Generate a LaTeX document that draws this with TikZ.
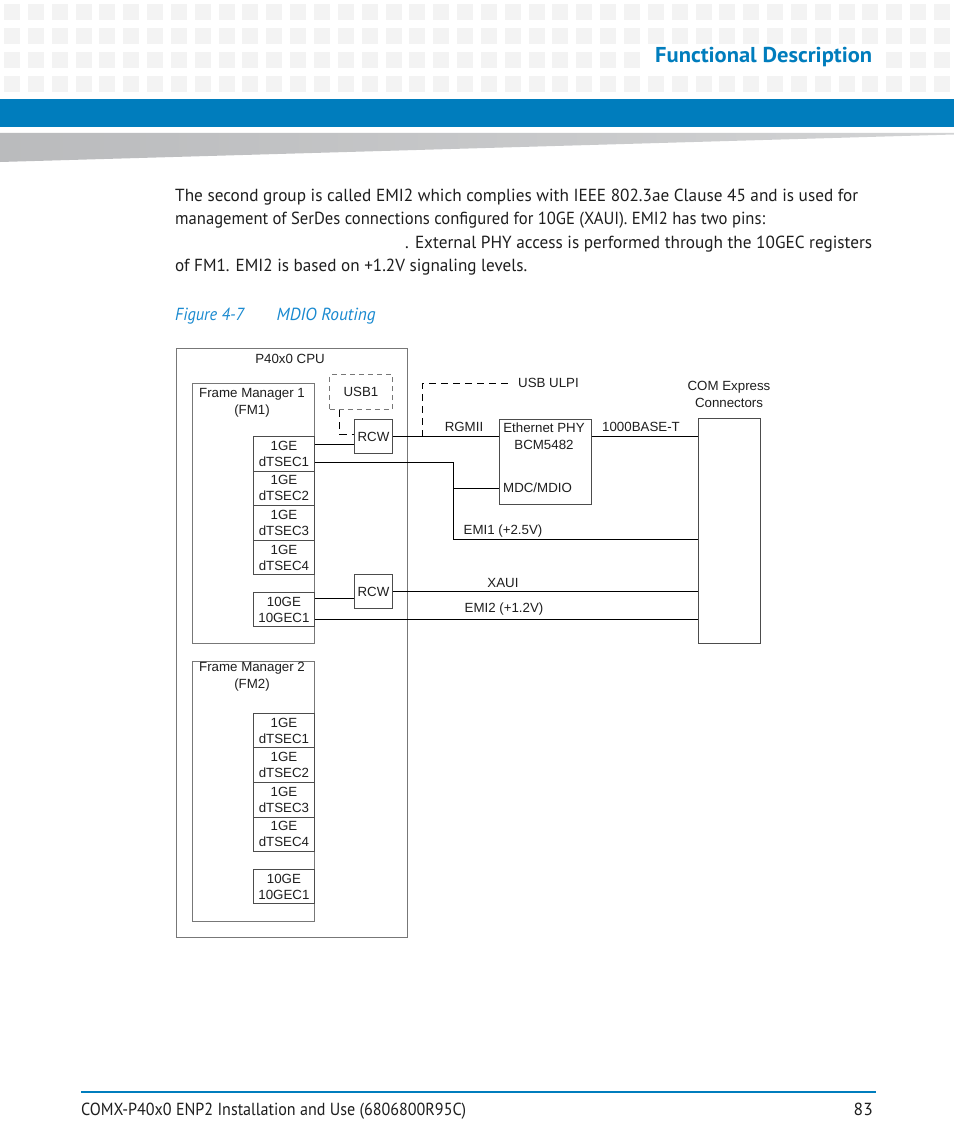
\documentclass[tikz,border=0pt]{standalone}
\usepackage{fontspec}
\setmainfont{PT Sans}
\newfontfamily\figfont{Liberation Sans}
\usetikzlibrary{positioning,calc}
\definecolor{brandblue}{HTML}{007DBD}
\definecolor{capblue}{HTML}{1A8AD0}
\definecolor{tilegray}{HTML}{F3F3F3}
\definecolor{wedgegray}{HTML}{BABBBD}
\definecolor{wedgelight}{HTML}{D2D3D4}
\definecolor{boxgray}{HTML}{777777}
\definecolor{inkgray}{HTML}{1E1E1E}
\newcommand{\fitto}[2]{\resizebox{#1}{\height}{#2}}
\tikzset{
  box/.style={draw=boxgray, line width=0.9pt, inner sep=0pt, anchor=north west},
  port/.style={box, draw=black!70, minimum width=61.6pt, text=inkgray, align=center,
    font=\figfont\fontsize{13.3}{16}\selectfont},
  lbl/.style={font=\figfont\fontsize{13.3}{17}\selectfont, text=inkgray, inner sep=0pt, align=center},
  wire/.style={line width=1pt, black},
  dwire/.style={wire, dash pattern=on 7pt off 5pt},
  body/.style={font=\fontsize{17.5}{21}\selectfont, text=inkgray, inner sep=0pt, anchor=base west}
}

\begin{document}
\begin{tikzpicture}[x=1pt, y=-1pt]
  \useasboundingbox (0,0) rectangle (954,1145);
  \fill[white] (0,0) rectangle (954,1145);
  % Header tiles, band and wedge
  \foreach \r in {0,...,3}
    \foreach \c in {0,...,39}
      \fill[tilegray] ({4+23.846*\c},{4+24*\r}) rectangle ++(16,16);
  \fill[white] (642,50) rectangle (884,70);
  \node[anchor=base west, inner sep=0pt, text=brandblue, font=\bfseries\fontsize{21.5}{24}\selectfont]
    (title) at (655,63) {\fitto{217pt}{Functional Description}};
  \fill[brandblue] (0,99) rectangle (954,127);
  \shade[left color=wedgegray, right color=wedgelight] (0,133) -- (954,133) -- (954,134.5) -- (0,162) -- cycle;

  % Body text
  \node[body] (l1) at (175,201.5) {\fitto{683pt}{The second group is called EMI2 which complies with IEEE 802.3ae Clause 45 and is used for}};
  \node[body] (l2) at (175,224.5) {\fitto{590pt}{management of SerDes connections configured for 10GE (XAUI). EMI2 has two pins:}};
  \node[body] (l3) at (405,248) {\fitto{467pt}{. External PHY access is performed through the 10GEC registers}};
  \node[body] (l4) at (175,271) {\fitto{352pt}{of FM1. EMI2 is based on +1.2V signaling levels.}};
  \node[body, text=capblue] (fignum) at (175,320) {\fitto{69pt}{\itshape Figure 4-7}};
  \node[body, text=capblue] (figname) at (276.5,320) {\fitto{99pt}{\itshape MDIO Routing}};

  % CPU and frame managers
  \node[box, minimum width=231pt, minimum height=589pt] (cpu) at (176,348) {};
  \node[lbl] (cpulbl) at (290,359) {P40x0 CPU};
  \node[box, minimum width=122.6pt, minimum height=260pt] (fm1) at (191.7,382.7) {};
  \node[lbl] (fm1lbl) at (252,403) {Frame Manager 1\\(FM1)};
  \node[box, minimum width=122.6pt, minimum height=260pt] (fm2) at (191.7,660.7) {};
  \node[lbl] (fm2lbl) at (252,676.5) {Frame Manager 2\\(FM2)};
  \foreach \i in {1,...,4} {
    \node[port, minimum height=34.6pt] (fma\i) at (252.7,{436+34.6*(\i-1)}) {1GE\\dTSEC\i};
    \node[port, minimum height=34.6pt] (fmb\i) at (252.7,{712.7+34.6*(\i-1)}) {1GE\\dTSEC\i};
  }
  \node[port, minimum height=33.4pt] (fmat) at (252.7,592.3) {10GE\\10GEC1};
  \node[port, minimum height=34.3pt] (fmbt) at (252.7,869) {10GE\\10GEC1};

  % RCW muxes and USB
  \node[box, draw=black!70, minimum width=37.4pt, minimum height=34.3pt, lbl] (rcw1) at (354.3,419) {RCW};
  \node[box, draw=black!70, minimum width=37.4pt, minimum height=34pt, lbl] (rcw2) at (354.3,574.3) {RCW};
  \node[box, dash pattern=on 5pt off 4pt, minimum width=62.4pt, minimum height=35pt, lbl] (usb1) at (329.3,374.3) {USB1};

  % PHY and connector
  \node[box, draw=black!70, minimum width=91.7pt, minimum height=85.3pt] (phy) at (499,419) {};
  \node[lbl] (phylbl) at (544,436) {Ethernet PHY\\BCM5482};
  \node[lbl, anchor=west] (mdc) at (503,488) {MDC/MDIO};
  \node[box, draw=black!70, minimum width=61.7pt, minimum height=225pt] (com) at (698.3,418.3) {};
  \node[lbl] (comlbl) at (729,394.5) {COM Express\\Connectors};

  % Wires
  \draw[dwire] ([xshift=-21pt]usb1.south) |- ([yshift=2pt]rcw1.west);
  \draw[wire] ([yshift=9pt]fma1.east) -- ([yshift=9pt]fma1.east -| rcw1.west);
  \draw[wire] (rcw1.east) -- (rcw1.east -| phy.west);
  \draw[wire] (rcw1.east -| phy.east) -- (rcw1.east -| com.west);
  \coordinate (ulpi) at (510,383);
  \draw[dwire] ([xshift=30pt]rcw1.east) |- (ulpi);
  \node[lbl, anchor=west] (ulpilbl) at ([xshift=8pt]ulpi) {USB ULPI};
  \coordinate (emi1) at (453,539);
  \draw[wire] ([yshift=-8.5pt]fma1.east) -| (emi1) -- (emi1 -| com.west);
  \draw[wire] (emi1 |- mdc.west) -- (mdc.west -| phy.west);
  \draw[wire] ([yshift=11pt]fmat.east) -- ([yshift=11pt]fmat.east -| rcw2.west);
  \draw[wire] (rcw2.east) -- (rcw2.east -| com.west);
  \draw[wire] ([yshift=-10pt]fmat.east) -- ([yshift=-10pt]fmat.east -| com.west);

  % Wire labels
  \node[lbl] (rgmii) at (464,427) {RGMII};
  \node[lbl] (base) at (641,427) {1000BASE-T};
  \node[lbl] (emi1lbl) at (503,531) {EMI1 (+2.5V)};
  \node[lbl] (xaui) at (503,583) {XAUI};
  \node[lbl] (emi2lbl) at (504,609) {EMI2 (+1.2V)};

  % Footer
  \draw[brandblue, line width=2.2pt] (81,1092) -- (876,1092);
  \node[body] (foot) at (81,1115) {\fitto{385pt}{COMX-P40x0 ENP2 Installation and Use (6806800R95C)}};
  \node[body, anchor=base east] (page) at (873,1115) {83};
\end{tikzpicture}
\end{document}
